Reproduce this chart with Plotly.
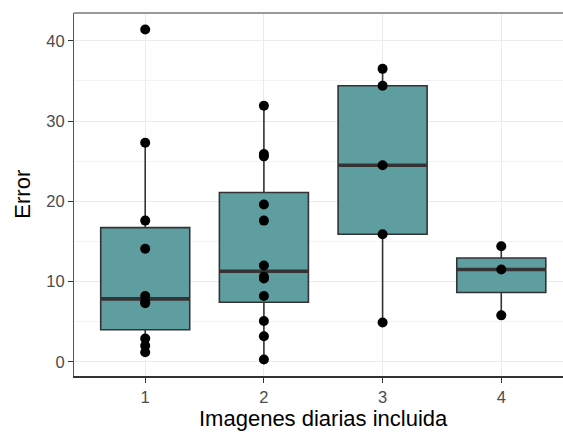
import numpy as np
import plotly.graph_objects as go

groups = [1, 2, 3, 4]
tick_labels = ["1", "2", "3", "4"]
g1 = [41.4, 27.3, 17.6, 14.1, 8.2, 7.5, 7.3, 2.9, 2.0, 1.2]
g2 = [31.9, 25.9, 25.6, 19.6, 17.6, 12.0, 10.6, 10.4, 8.2, 5.1, 3.2, 0.3]
g3 = [36.5, 34.4, 24.5, 15.9, 4.9]
g4 = [14.4, 11.5, 5.8]
series = [g1, g2, g3, g4]

x_title = "Imagenes diarias incluida"
y_title = "Error"

FILL = "#5F9EA0"
LINE = "#333333"
BOXW = 0.75

fig = go.Figure()

for g, vals in zip(groups, series):
    v = np.array(vals, dtype=float)
    q1, med, q3 = np.percentile(v, [25, 50, 75])
    iqr = q3 - q1
    lo = v[v >= q1 - 1.5 * iqr].min()
    hi = v[v <= q3 + 1.5 * iqr].max()
    fig.add_trace(go.Box(
        x=[g], q1=[q1], median=[med], q3=[q3], lowerfence=[lo], upperfence=[hi],
        width=BOXW, whiskerwidth=0, fillcolor=FILL,
        line=dict(color=LINE, width=1.6), boxpoints=False,
        showlegend=False, hoverinfo="skip"))
    fig.add_trace(go.Scatter(
        x=[g - BOXW / 2, g + BOXW / 2], y=[med, med], mode="lines",
        line=dict(color=LINE, width=3.6), showlegend=False, hoverinfo="skip"))

for g, vals in zip(groups, series):
    fig.add_trace(go.Scatter(
        x=[g] * len(vals), y=vals, mode="markers",
        marker=dict(color="black", size=10, line=dict(width=0)),
        showlegend=False))

allv = np.concatenate([np.array(s, dtype=float) for s in series])
span = allv.max() - allv.min()
yr = [allv.min() - 0.05 * span, allv.max() + 0.05 * span]

fig.update_layout(
    width=563, height=432,
    margin=dict(l=74, r=0, t=13, b=56, autoexpand=False),
    paper_bgcolor="white", plot_bgcolor="white",
    font=dict(family="Liberation Sans, Arial, sans-serif"),
    xaxis=dict(
        range=[0.4, 4.52], tickmode="array", tickvals=groups, ticktext=tick_labels,
        showgrid=True, gridcolor="#EBEBEB", gridwidth=1.3, zeroline=False,
        showline=True, linecolor="#333333", linewidth=1.6,
        ticks="outside", ticklen=5, tickwidth=1.3, tickcolor="#333333",
        tickfont=dict(size=16.5, color="#4D4D4D"),
    ),
    yaxis=dict(
        range=yr, tickmode="array", tickvals=[0, 10, 20, 30, 40],
        showgrid=True, gridcolor="#EBEBEB", gridwidth=1.3, zeroline=False,
        minor=dict(tickmode="array", tickvals=[5, 15, 25, 35], showgrid=True,
                   gridcolor="#F3F3F3", gridwidth=0.8),
        showline=True, linecolor="#555555", linewidth=1.2,
        ticks="outside", ticklen=5, tickwidth=1.3, tickcolor="#333333",
        tickfont=dict(size=16.5, color="#4D4D4D"),
    ),
    shapes=[dict(type="line", xref="paper", yref="paper", x0=0, x1=1, y0=1, y1=1,
                 line=dict(color="#777777", width=1.3))],
    annotations=[
        dict(text=x_title, xref="x", x=2.5, yref="paper", y=-0.118,
             xanchor="center", yanchor="middle", showarrow=False,
             font=dict(size=22, color="black")),
        dict(text=y_title, xref="paper", x=-0.106, yref="paper", y=0.5,
             xanchor="center", yanchor="middle", textangle=-90, showarrow=False,
             font=dict(size=22, color="black")),
    ],
)

fig.write_html("out.html", config={"displayModeBar": False},
               post_script="document.body.style.margin='0';document.body.style.padding='0';")
